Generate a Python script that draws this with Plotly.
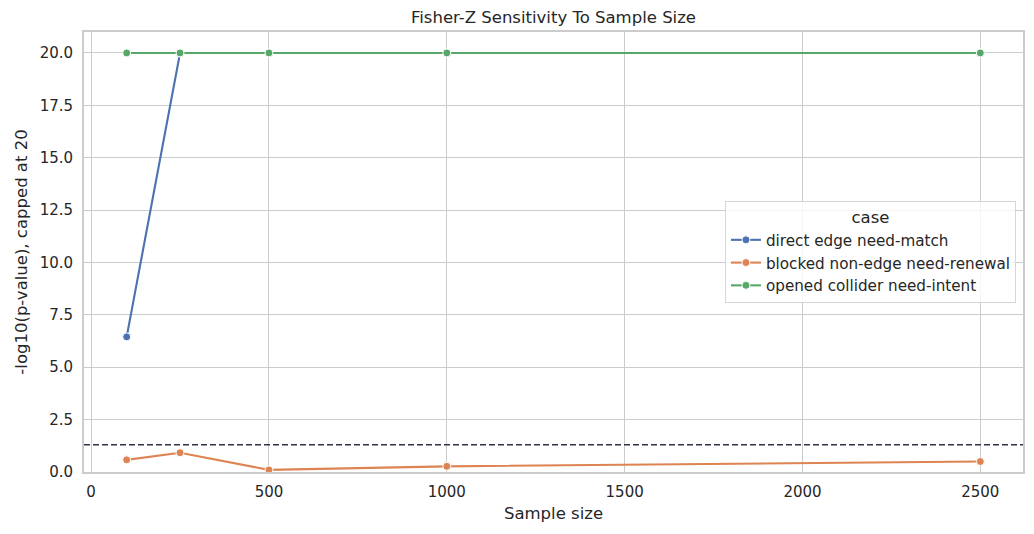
import plotly.graph_objects as go

# sample sizes
sample_sizes = [100, 250, 500, 1000, 2500]

# -log10(p), capped at 20
direct_edge = [6.45, 20, 20, 20, 20]
blocked_non_edge = [0.58, 0.92, 0.10, 0.27, 0.50]
opened_collider = [20, 20, 20, 20, 20]

case_names = ["direct edge need-match", "blocked non-edge need-renewal", "opened collider need-intent"]
case_values = [direct_edge, blocked_non_edge, opened_collider]
case_colors = ["#4c72b0", "#dd8452", "#55a868"]

alpha_line = 1.3010  # -log10(0.05)

fig = go.Figure()
for name, vals, col in zip(case_names, case_values, case_colors):
    fig.add_trace(go.Scatter(
        x=sample_sizes, y=vals, name=name, mode="lines+markers",
        line=dict(color=col, width=2.1),
        marker=dict(color=col, size=8, line=dict(color="white", width=1)),
        cliponaxis=False,
    ))

fig.add_hline(y=alpha_line, line=dict(color="#2e3346", width=1.5, dash="6px,3px"))

font = "DejaVu Sans"
# page body has an 8px margin, so margins are shifted to compensate
fig.update_layout(
    width=1034, height=534,
    margin=dict(l=73, r=19, t=24, b=70),
    paper_bgcolor="white", plot_bgcolor="white",
    font=dict(family=font, size=14, color="#262626"),
    title=dict(text="Fisher-Z Sensitivity To Sample Size", x=0.5, xanchor="center",
               xref="paper", y=0.983, yanchor="middle", font=dict(size=16.5, color="#262626")),
    legend=dict(
        title=dict(text="case", side="top center", font=dict(size=16.5)),
        x=0.9925, xanchor="right", y=0.50, yanchor="middle",
        bgcolor="rgba(255,255,255,0.8)", bordercolor="#d6d6d6", borderwidth=1,
        font=dict(size=15.2), tracegroupgap=0, itemwidth=30,
    ),
    showlegend=True,
)
fig.update_xaxes(
    range=[-20, 2620], tickvals=[0, 500, 1000, 1500, 2000, 2500],
    showgrid=True, gridcolor="#cccccc", gridwidth=1.1,
    showline=True, linecolor="#cccccc", linewidth=1.7, mirror=True,
    zeroline=False, ticks="outside", ticklen=5, tickcolor="rgba(0,0,0,0)",
    tickfont=dict(size=15),
    title=dict(text="Sample size", font=dict(size=16.5), standoff=8),
)
fig.update_yaxes(
    range=[0, 21], tickvals=[0, 2.5, 5, 7.5, 10, 12.5, 15, 17.5, 20],
    ticktext=["0.0", "2.5", "5.0", "7.5", "10.0", "12.5", "15.0", "17.5", "20.0"],
    showgrid=True, gridcolor="#cccccc", gridwidth=1.1,
    showline=True, linecolor="#cccccc", linewidth=1.7, mirror=True,
    zeroline=False, ticks="outside", ticklen=6, tickcolor="rgba(0,0,0,0)",
    tickfont=dict(size=15),
    title=dict(text="-log10(p-value), capped at 20", font=dict(size=16.5), standoff=8),
)

fig.write_html("out.html")
